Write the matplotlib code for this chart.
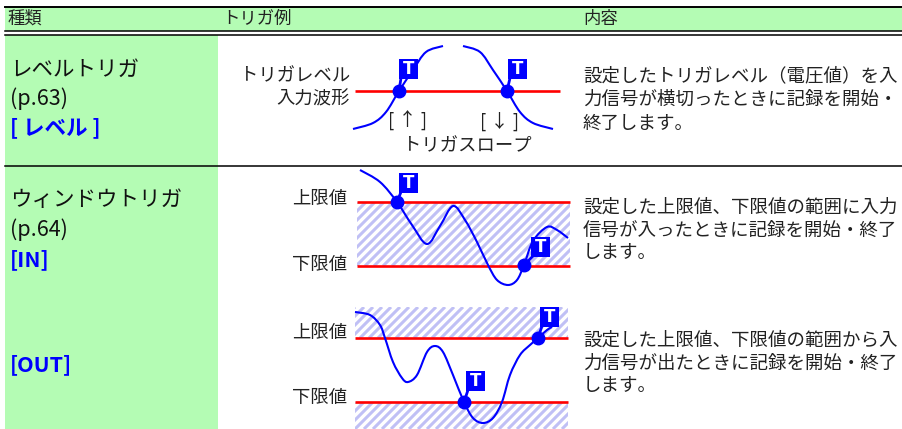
import numpy as np
import matplotlib.pyplot as plt
from matplotlib.path import Path
from matplotlib.patches import PathPatch, Rectangle
from matplotlib.collections import LineCollection

plt.rcParams['font.family'] = ['Noto Sans CJK JP', 'DejaVu Sans']

## 色
GREEN = '#b4fcb4'
BLUE = '#0000ff'
RED = '#ff0000'
STRIPE = '#c0c0f5'
TXT = '#222222'

## 表の見出し
header_labels = ['種類', 'トリガ例', '内容']
header_x = [8, 222, 583]

## 左列（種類）
kind_titles = ['レベルトリガ', '(p.63)', 'ウィンドウトリガ', '(p.64)']
kind_title_y = [70, 99, 200, 230]
kind_tags = ['[ レベル ]', '[IN]', '[OUT]']
kind_tag_y = [128, 260, 365]

## 右列（内容）
desc_lines = [
    ['設定したトリガレベル（電圧値）を入', '力信号が横切ったときに記録を開始・', '終了します。'],
    ['設定した上限値、下限値の範囲に入力', '信号が入ったときに記録を開始・終了', 'します。'],
    ['設定した上限値、下限値の範囲から入', '力信号が出たときに記録を開始・終了', 'します。'],
]
desc_y = [[76, 100, 124], [208, 231, 253], [341, 364, 386]]

## 波形（図から読み取った点, px）
level_rise = [(353, 129), (373, 123), (386, 112), (399, 91), (413, 70), (426, 52), (443, 46)]
level_fall = [(463, 46), (480, 52), (493, 70), (507, 91), (520, 112), (533, 123), (553, 129)]
win_in = [(360, 170), (380, 182), (397, 202), (412, 225), (427, 244), (440, 226), (453, 206),
          (465, 220), (477, 242), (488, 265), (497, 280), (508, 285), (517, 280), (524, 265),
          (533, 241), (547, 227), (557, 230), (568, 238)]
win_out = [(355, 312), (370, 315), (380, 325), (385, 338), (393, 362), (402, 378), (408, 382),
           (417, 375), (427, 352), (435, 346), (443, 352), (453, 375), (464, 402), (473, 418),
           (483, 423), (493, 418), (502, 402), (510, 375), (520, 355), (530, 345), (538, 338),
           (547, 330), (552, 327)]

## レベル線 (y, x0, x1)
level_lines = [(91, 355, 560), (202, 357, 570), (266, 357, 570), (338, 355, 568), (402, 355, 568)]
## 斜線の範囲 (x0, x1, y0, y1)
hatch_bands = [(357, 570, 202, 266), (355, 568, 307, 338), (355, 568, 402, 429)]

## トリガ点と T マークの位置
trig_pts = [(399, 91), (507, 91), (397, 202), (524, 265), (464, 402), (538, 338)]
tbox_pos = [(399, 59), (508, 59), (399, 173), (531, 237), (466, 371), (540, 307)]

## 図中ラベル (文字, x, y, ha)
diagram_labels = [
    ('トリガレベル', 350, 76, 'right'), ('入力波形', 350, 100, 'right'),
    ('[ ↑ ]', 408, 121, 'center'), ('[ ↓ ]', 500, 121, 'center'),
    ('トリガスロープ', 467, 146, 'center'),
    ('上限値', 347, 199, 'right'), ('下限値', 347, 265, 'right'),
    ('上限値', 347, 333, 'right'), ('下限値', 347, 398, 'right'),
]


def smooth_path(pts):
    # Catmull-Rom -> ベジェ曲線
    p = np.array(pts, dtype=float)
    p = np.vstack([p[0], p, p[-1]])
    verts = [p[1]]
    codes = [Path.MOVETO]
    for i in range(1, len(p) - 2):
        c1 = p[i] + (p[i + 1] - p[i - 1]) / 6
        c2 = p[i + 1] - (p[i + 2] - p[i]) / 6
        verts += [c1, c2, p[i + 1]]
        codes += [Path.CURVE4] * 3
    return Path(verts, codes)


fig = plt.figure(figsize=(9.02, 4.29), dpi=100)
ax = fig.add_axes([0, 0, 1, 1])
ax.set_xlim(0, 902)
ax.set_ylim(429, 0)
ax.axis('off')

## 背景と罫線
ax.add_patch(Rectangle((5, 7), 897, 24, color=GREEN, lw=0, zorder=0))
ax.add_patch(Rectangle((5, 35), 213, 394, color=GREEN, lw=0, zorder=0))
for y, lw in [(7, 1.4), (31, 1.1), (34.5, 1.1), (166, 1.1)]:
    ax.plot([5, 902], [y, y], color='black', lw=lw, zorder=1)

for s, x in zip(header_labels, header_x):
    ax.text(x, 19, s, fontsize=12.5, color=TXT, va='center')

for s, y in zip(kind_titles, kind_title_y):
    ax.text(10, y, s, fontsize=15.5, color='#111111', va='center')
for s, y in zip(kind_tags, kind_tag_y):
    ax.text(10, y, s, fontsize=15.5, color=BLUE, va='center', fontweight='bold')

for lines, ys in zip(desc_lines, desc_y):
    for s, y in zip(lines, ys):
        ax.text(583, y, s, fontsize=13.3, color=TXT, va='center')

for s, x, y, ha in diagram_labels:
    ax.text(x, y, s, fontsize=13.2, color=TXT, va='center', ha=ha)

## 斜線
for x0, x1, y0, y1 in hatch_bands:
    clip = Rectangle((x0, y0), x1 - x0, y1 - y0, transform=ax.transData)
    h = y1 - y0
    segs = [[(x, y1), (x + h, y0)] for x in np.arange(x0 - h - 9, x1 + 9, 9)]
    lc = LineCollection(segs, colors=STRIPE, linewidths=2.2, zorder=1)
    ax.add_collection(lc)
    lc.set_clip_path(clip)

for y, x0, x1 in level_lines:
    ax.plot([x0, x1], [y, y], color=RED, lw=1.9, solid_capstyle='butt', zorder=2)

for w in [level_rise, level_fall, win_in, win_out]:
    ax.add_patch(PathPatch(smooth_path(w), fill=False, edgecolor=BLUE, lw=1.5, zorder=3))

## T マーク
for (px, py), (bx, by) in zip(trig_pts, tbox_pos):
    ax.plot([px, bx + 2], [py, by + 19], color=BLUE, lw=2, zorder=4)
    ax.plot(px, py, 'o', color=BLUE, ms=9, zorder=5)
    ax.add_patch(Rectangle((bx, by), 19, 20, color=BLUE, lw=0, zorder=5))
    ax.text(bx + 9.5, by + 10.5, 'T', fontsize=12, color='white', fontweight='bold',
            ha='center', va='center', family='DejaVu Sans', zorder=6)

fig.savefig('out.png', dpi=100)
